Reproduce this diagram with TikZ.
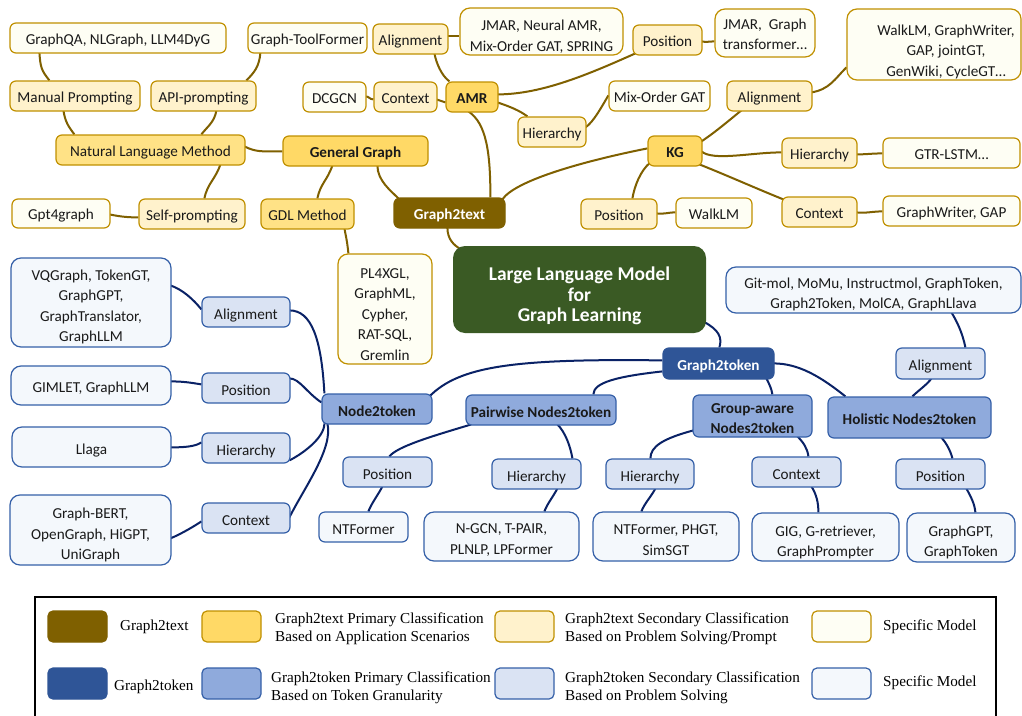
\documentclass[tikz,border=0pt]{standalone}
\usepackage{fontspec}
\setmainfont{Carlito}
\newfontfamily\legfont{Liberation Serif}
\usetikzlibrary{calc}
\pgfdeclarelayer{bg}
\pgfdeclarelayer{paper}
\pgfsetlayers{paper,bg,main}
\definecolor{gbrown}{HTML}{7F6000}
\definecolor{gprim}{HTML}{FFD966}
\definecolor{gmid}{HTML}{FFE286}
\definecolor{gsec}{HTML}{FFF2CC}
\definecolor{gspec}{HTML}{FEFEF4}
\definecolor{gbord}{HTML}{C09000}
\definecolor{tblue}{HTML}{2F5597}
\definecolor{tprim}{HTML}{8FAADC}
\definecolor{tsec}{HTML}{DAE3F3}
\definecolor{tspec}{HTML}{F4F8FC}
\definecolor{tbord}{HTML}{3560A8}
\definecolor{tline}{HTML}{0A2266}
\definecolor{llmgreen}{HTML}{3A5A24}
\definecolor{txt}{HTML}{1A1A1A}
\newcommand\nf{\fontsize{15.2pt}{20.5pt}\selectfont}
\newcommand\dn[1]{\rule{0pt}{#1pt}}
\tikzset{
  box/.style={draw, rounded corners=6pt, line width=1.2pt, inner sep=0pt, align=center, text=txt, font=\nf, minimum height=30pt},
  one/.style={text height=12pt, text depth=0pt},
  onek/.style={text height=14.5pt, text depth=0pt},
  tt/.style={box, one, fill=gbrown, draw=gbrown, text=white, font=\nf\bfseries},
  tp/.style={box, one, fill=gprim, draw=gbord, font=\nf\bfseries},
  tm/.style={box, one, fill=gmid, draw=gbord},
  ts/.style={box, one, fill=gsec, draw=gbord},
  tx/.style={box, one, fill=gspec, draw=gbord},
  txm/.style={box, fill=gspec, draw=gbord},
  kt/.style={box, onek, fill=tblue, draw=tblue, text=white, font=\nf\bfseries},
  kp/.style={box, onek, fill=tprim, draw=tbord, font=\nf\bfseries},
  kpm/.style={box, fill=tprim, draw=tbord, font=\nf\bfseries},
  ks/.style={box, onek, fill=tsec, draw=tbord},
  kx/.style={box, onek, fill=tspec, draw=tbord},
  kxm/.style={box, fill=tspec, draw=tbord},
  big/.style={rounded corners=10pt},
  bl/.style={line width=2pt, draw=gbrown},
  nl/.style={line width=2pt, draw=tline},
  sw/.style={rounded corners=5pt, line width=1.2pt, minimum width=59pt, minimum height=31pt, inner sep=0pt},
  lg/.style={font=\legfont\fontsize{15.2pt}{18pt}\selectfont, align=left, anchor=west, inner sep=0pt, text=black}
}
\begin{document}
\begin{tikzpicture}[x=1pt,y=-1pt]
\useasboundingbox (0,0) rectangle (1022,715);
\begin{pgfonlayer}{paper}
\fill[white] (0,0) rectangle (1022,715);
\end{pgfonlayer}
% ---------------- Graph2text side ----------------
\node[tx, minimum width=216pt] (m1) at (118,38) {GraphQA, NLGraph, LLM4DyG};
\node[tx, minimum width=119pt] (m2) at (307.5,38) {Graph-ToolFormer};
\node[ts, minimum width=130pt] (s1) at (75,96) {Manual Prompting};
\node[ts, minimum width=105pt] (s2) at (203.5,96) {API-prompting};
\node[tm, minimum width=189pt] (p1) at (150.5,150) {Natural Language Method};
\node[tp, minimum width=145pt] (g) at (355.5,151) {General Graph};
\node[tx, minimum width=98pt, minimum height=29pt] (m3) at (61,213.5) {Gpt4graph};
\node[ts, minimum width=106pt] (s3) at (192,214) {Self-prompting};
\node[tm, minimum width=93pt] (p2) at (307.5,214) {GDL Method};
\node[txm, big, minimum width=94pt, minimum height=110pt] (m4) at (385,309) {\dn{21}PL4XGL,\\GraphML,\\Cypher,\\RAT-SQL,\\Gremlin};
\node[ts, minimum width=75pt] (s4) at (410.5,39) {Alignment};
\node[txm, big, minimum width=163pt, minimum height=47pt] (m5) at (541.5,31.5) {\dn{21}JMAR, Neural AMR,\\Mix-Order GAT, SPRING};
\node[ts, minimum width=69pt] (s5) at (667.5,40) {Position};
\node[txm, big, minimum width=100pt, minimum height=48pt] (m6) at (765,33) {\dn{13.5}JMAR,~ Graph\\transformer…};
\node[tx, minimum width=63pt] (m7) at (334.5,97) {DCGCN};
\node[ts, minimum width=63pt] (s6) at (405.5,97) {Context};
\node[tp, minimum width=52pt] (a) at (472,97) {AMR};
\node[ts, minimum width=68pt] (s7) at (552,132) {Hierarchy};
\node[tx, minimum width=101pt] (m8) at (659.5,96) {Mix-Order GAT};
\node[tt, minimum width=111pt] (t) at (449.5,213) {Graph2text};
\node[tp, minimum width=54pt] (k) at (675,151) {KG};
\node[ts, minimum width=85pt] (s8) at (769.5,96) {Alignment};
\node[txm, big, minimum width=174pt, minimum height=71pt] (m9) at (934,44.5) {};
\node[align=center, font=\nf, text=txt, inner sep=0pt] (m9t) at (946,51.7) {WalkLM, GraphWriter,\\GAP, jointGT,\\GenWiki, CycleGT…};
\node[ts, minimum width=75pt] (s9) at (819.5,153) {Hierarchy};
\node[tx, minimum width=137pt] (m10) at (951.5,153) {GTR-LSTM…};
\node[ts, minimum width=76pt] (s10) at (619,214) {Position};
\node[tx, minimum width=76pt] (m11) at (714,213) {WalkLM};
\node[ts, minimum width=75pt] (s11) at (819.5,212) {Context};
\node[tx, minimum width=137pt] (m12) at (951.5,211) {GraphWriter, GAP};
% ---------------- center ----------------
\node[fill=llmgreen, rounded corners=12pt, minimum width=253pt, minimum height=87pt, text=white, font=\fontsize{19.5pt}{20.5pt}\selectfont\bfseries, align=center, inner sep=0pt] (llm) at (579.5,289.5) {\dn{26.5}Large Language Model\\for\\Graph Learning};
% ---------------- Graph2token side ----------------
\node[kt, minimum width=111pt, minimum height=31pt] (G) at (718.5,363.5) {Graph2token};
\node[kp, minimum width=110pt] (n1) at (377,409) {Node2token};
\node[kp, minimum width=150pt] (n2) at (541,410) {Pairwise Nodes2token};
\node[kpm, minimum width=119pt, minimum height=42pt] (n3) at (752.5,416) {\dn{15}Group-aware\\Nodes2token};
\node[kp, minimum width=163pt, minimum height=41pt] (n4) at (909.5,417.5) {Holistic Nodes2token};
\node[ks, minimum width=88pt] (u1) at (246,312) {Alignment};
\node[ks, minimum width=88pt] (u2) at (246,388) {Position};
\node[ks, minimum width=88pt] (u3) at (246,448) {Hierarchy};
\node[ks, minimum width=88pt] (u4) at (246,518) {Context};
\node[kxm, big, minimum width=160pt, minimum height=89pt] (v1) at (91,302.5) {\dn{19}VQGraph, TokenGT,\\GraphGPT,\\GraphTranslator,\\GraphLLM};
\node[kx, big, minimum width=160pt, minimum height=39pt] (v2) at (91,385.5) {GIMLET, GraphLLM};
\node[kx, big, minimum width=159pt, minimum height=40pt] (v3) at (91.5,447) {Llaga};
\node[kxm, big, minimum width=161pt, minimum height=70pt] (v4) at (90.5,530) {\dn{21}Graph-BERT,\\OpenGraph, HiGPT,\\UniGraph};
\node[ks, minimum width=89pt] (u5) at (387.5,472) {Position};
\node[kx, minimum width=89pt] (v5) at (363.5,527) {NTFormer};
\node[ks, minimum width=89pt] (u6) at (536.5,474) {Hierarchy};
\node[kxm, big, minimum width=155pt, minimum height=49pt] (v6) at (501.5,536.5) {\dn{17}N-GCN, T-PAIR,\\PLNLP, LPFormer};
\node[ks, minimum width=88pt] (u7) at (650,474) {Hierarchy};
\node[kxm, big, minimum width=146pt, minimum height=49pt] (v7) at (666,536.5) {\dn{17}NTFormer, PHGT,\\SimSGT};
\node[ks, minimum width=89pt] (u8) at (796.5,472) {Context};
\node[kxm, big, minimum width=147pt, minimum height=48pt] (v8) at (825.5,537) {\dn{21.5}GIG, G-retriever,\\GraphPrompter};
\node[ks, minimum width=89pt, minimum height=31pt] (u9) at (940.5,363.5) {Alignment};
\node[kxm, big, minimum width=295pt, minimum height=46pt] (v9) at (873.5,290) {\dn{19}Git-mol, MoMu, Instructmol, GraphToken,\\Graph2Token, MolCA, GraphLlava};
\node[ks, minimum width=89pt] (u10) at (940.5,474) {Position};
\node[kxm, big, minimum width=108pt, minimum height=49pt] (v10) at (961,537.5) {\dn{20.5}GraphGPT,\\GraphToken};
% ---------------- connectors ----------------
\begin{pgfonlayer}{bg}
\draw[bl] ($(m1.north west)+(30,30)$) .. controls +(1,15) and +(-8,-10) .. ($(s1.north west)+(40,0)$);
\draw[bl] ($(m2.north west)+(13,30)$) .. controls +(-1,14) and +(8,-8) .. ($(s2.north west)+(96,0)$);
\draw[bl] ($(s1.north west)+(54,30)$) .. controls +(2,12) and +(-6,-8) .. ($(p1.north west)+(19,0)$);
\draw[bl] ($(s2.north west)+(66,30)$) .. controls +(-2,12) and +(6,-8) .. ($(p1.north west)+(146,0)$);
\draw[bl] ($(p1.north west)+(189,12)$) .. controls +(12,6) and +(-20,0) .. ($(g.north west)+(0,16)$);
\draw[bl] ($(p1.north west)+(165,30)$) .. controls +(-5,15) and +(3,-15) .. ($(s3.north west)+(66,0)$);
\draw[bl] ($(m3.north west)+(98,16)$) .. controls +(10,2) and +(-12,0) .. ($(s3.north west)+(0,19)$);
\draw[bl] ($(g.north west)+(50,30)$) .. controls +(-5,15) and +(3,-15) .. ($(p2.north west)+(57,0)$);
\draw[bl] ($(g.north west)+(95,30)$) .. controls +(0,15) and +(-8,-8) .. ($(t.north west)+(5,1)$);
\draw[bl] ($(p2.north west)+(84,30)$) .. controls +(2,10) and +(-1,-10) .. ($(m4.north west)+(11,0)$);
\draw[bl] ($(a.north west)+(23,30)$) .. controls +(18,12) and +(0,-45) .. ($(t.north west)+(97,0)$);
\draw[bl] ($(a.north west)+(4,0)$) .. controls +(-8,-6) and +(2,10) .. ($(s4.north west)+(62,30)$);
\draw[bl] ($(s4.north west)+(75,13)$) -- ($(m5.north west)+(0,29)$);
\draw[bl] ($(s6.north west)+(63,18)$) -- ($(a.north west)+(0,21)$);
\draw[bl] ($(m7.north west)+(63,15)$) .. controls +(4,0) and +(-4,0) .. ($(s6.north west)+(0,18)$);
\draw[bl] ($(a.north west)+(52,13)$) .. controls +(45,0) and +(-45,20) .. ($(s5.north west)+(3,29)$);
\draw[bl] ($(s5.north west)+(69,17)$) .. controls +(5,1) and +(-5,0) .. ($(m6.north west)+(0,33)$);
\draw[bl] ($(a.north west)+(52,21)$) .. controls +(12,4) and +(-8,-6) .. ($(s7.north west)+(10,0)$);
\draw[bl] ($(s7.north west)+(68,11)$) .. controls +(8,-5) and +(-6,10) .. ($(m8.north west)+(0,15)$);
\draw[bl] ($(t.north west)+(109,2)$) .. controls +(12,-18) and +(-70,14) .. ($(k.north west)+(0,13)$);
\draw[bl] ($(t.north west)+(54,30)$) .. controls +(0,12) and +(-6,-4) .. ($(llm.north west)+(7,3)$);
\draw[bl] ($(k.north west)+(54,6)$) .. controls +(15,-10) and +(-10,8) .. ($(s8.north west)+(15,30)$);
\draw[bl] ($(s8.north west)+(85,12)$) .. controls +(18,-3) and +(-12,12) .. ($(m9.north west)+(0,59)$);
\draw[bl] ($(k.north west)+(54,16)$) .. controls +(12,10) and +(-30,0) .. ($(s9.north west)+(0,15)$);
\draw[bl] ($(s9.north west)+(75,17)$) .. controls +(10,0) and +(-10,0) .. ($(m10.north west)+(0,16)$);
\draw[bl] ($(k.north west)+(52,29)$) .. controls +(30,12) and +(-25,-10) .. ($(s11.north west)+(2,3)$);
\draw[bl] ($(k.north west)+(3,27)$) .. controls +(-10,8) and +(2,-12) .. ($(s10.north west)+(52,0)$);
\draw[bl] ($(s10.north west)+(76,15)$) .. controls +(8,1) and +(-8,0) .. ($(m11.north west)+(0,15)$);
\draw[bl] ($(s11.north west)+(75,16)$) .. controls +(10,1) and +(-10,0) .. ($(m12.north west)+(0,16)$);
% navy
\draw[nl] ($(llm.north west)+(251,76)$) .. controls +(15,8) and +(3,-10) .. ($(G.north west)+(57,0)$);
\draw[nl] ($(G.north west)+(0,13)$) .. controls +(-150,-2) and +(30,-30) .. ($(n1.north west)+(108,3)$);
\draw[nl] ($(G.north west)+(0,24)$) .. controls +(-45,5) and +(0,-12) .. ($(n2.north west)+(128,0)$);
\draw[nl] ($(G.north west)+(104,31)$) .. controls +(3,6) and +(-1,-6) .. ($(n3.north west)+(80,0)$);
\draw[nl] ($(G.north west)+(111,16)$) .. controls +(25,0) and +(-25,-20) .. ($(n4.north west)+(18,0)$);
\draw[nl] ($(n4.north west)+(85,0)$) .. controls +(6,-6) and +(-4,6) .. ($(u9.north west)+(36,31)$);
\draw[nl] ($(u9.north west)+(70,0)$) .. controls +(-3,-15) and +(5,8) .. ($(v9.north west)+(226,46)$);
\draw[nl] ($(n4.north west)+(114,41)$) .. controls +(5,6) and +(-2,-8) .. ($(u10.north west)+(57,0)$);
\draw[nl] ($(u10.north west)+(71,30)$) .. controls +(4,8) and +(-1,-10) .. ($(v10.north west)+(69,0)$);
\draw[nl] ($(n3.north west)+(105,42)$) .. controls +(6,6) and +(-1,-8) .. ($(u8.north west)+(57,0)$);
\draw[nl] ($(u8.north west)+(60,30)$) .. controls +(5,8) and +(0,-10) .. ($(v8.north west)+(67,0)$);
\draw[nl] ($(n3.north west)+(1,36)$) .. controls +(-30,8) and +(0,-12) .. ($(u7.north west)+(45,0)$);
\draw[nl] ($(u7.north west)+(50,30)$) .. controls +(-4,8) and +(3,-8) .. ($(v7.north west)+(49,0)$);
\draw[nl] ($(n2.north west)+(92,30)$) .. controls +(8,8) and +(-2,-12) .. ($(u6.north west)+(81,0)$);
\draw[nl] ($(u6.north west)+(66,30)$) .. controls +(-4,8) and +(3,-8) .. ($(v6.north west)+(121,0)$);
\draw[nl] ($(n2.north west)+(6,30)$) .. controls +(-40,12) and +(8,-10) .. ($(u5.north west)+(47,0)$);
\draw[nl] ($(u5.north west)+(40,30)$) .. controls +(-4,8) and +(3,-8) .. ($(v5.north west)+(50,0)$);
\draw[nl] ($(n1.north west)+(3,0)$) .. controls +(-3,-55) and +(22,0) .. ($(u1.north west)+(88,14)$);
\draw[nl] ($(n1.north west)+(0,9)$) .. controls +(-15,-10) and +(10,0) .. ($(u2.north west)+(88,6)$);
\draw[nl] ($(n1.north west)+(3,30)$) .. controls +(0,15) and +(12,-6) .. ($(u3.north west)+(88,28)$);
\draw[nl] ($(n1.north west)+(6,30)$) .. controls +(6,25) and +(15,-30) .. ($(u4.north west)+(88,15)$);
\draw[nl] ($(v1.north west)+(160,28)$) .. controls +(12,4) and +(-8,-10) .. ($(u1.north west)+(0,13)$);
\draw[nl] ($(v2.north west)+(160,16)$) .. controls +(12,0) and +(-12,-2) .. ($(u2.north west)+(0,12)$);
\draw[nl] ($(v3.north west)+(159,21)$) .. controls +(15,0) and +(-6,4) .. ($(u3.north west)+(0,10)$);
\draw[nl] ($(v4.north west)+(161,44)$) .. controls +(12,-5) and +(-6,4) .. ($(u4.north west)+(0,19)$);
\end{pgfonlayer}
% ---------------- legend ----------------
\draw[line width=1.3pt, black] (35,597) rectangle (996,730);
\node[sw, fill=gbrown, draw=gbrown] (lg1) at (77.5,626.5) {};
\node[sw, fill=gprim, draw=gbord] (lg2) at (231.5,626.5) {};
\node[sw, fill=gsec, draw=gbord] (lg3) at (524.5,626.5) {};
\node[sw, fill=gspec, draw=gbord] (lg4) at (841.5,626.5) {};
\node[sw, fill=tblue, draw=tblue] (lg5) at (77.5,683.5) {};
\node[sw, fill=tprim, draw=tbord] (lg6) at (231.5,683.5) {};
\node[sw, fill=tsec, draw=tbord] (lg7) at (524.5,683.5) {};
\node[sw, fill=tspec, draw=tbord] (lg8) at (841.5,683.5) {};
\node[lg] (lt1) at (120,627) {Graph2text};
\node[lg] (lt2) at (275,629) {Graph2text Primary Classification\\Based on Application Scenarios};
\node[lg] (lt3) at (565,629) {Graph2text Secondary Classification\\Based on Problem Solving/Prompt};
\node[lg] (lt4) at (883,627) {Specific Model};
\node[lg] (lt5) at (114,687) {Graph2token};
\node[lg] (lt6) at (271,688) {Graph2token Primary Classification\\Based on Token Granularity};
\node[lg] (lt7) at (565,688) {Graph2token Secondary Classification\\Based on Problem Solving};
\node[lg] (lt8) at (883,683) {Specific Model};
\end{tikzpicture}
\end{document}
